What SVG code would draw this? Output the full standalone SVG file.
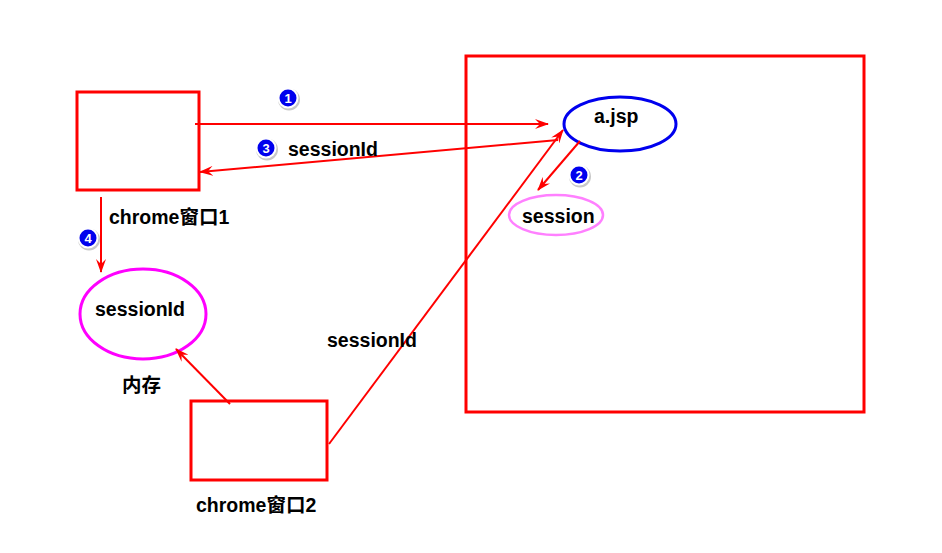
<svg xmlns="http://www.w3.org/2000/svg" width="942" height="553" viewBox="0 0 942 553">
<defs>
<marker id="ah" viewBox="0 0 14 10" refX="13" refY="5" markerWidth="14" markerHeight="10" markerUnits="userSpaceOnUse" orient="auto">
<path d="M0,0 L14,5 L0,10 L5,5 z" fill="#ff0000"/>
</marker>
<g id="badge">
<circle cx="1" cy="1.5" r="11" fill="#b0b0b0" opacity="0.7"/>
<circle cx="0" cy="0" r="10.5" fill="#ffffff"/>
<circle cx="0" cy="0" r="8.5" fill="#0000ee"/>
</g>
</defs>
<style>
.box{fill:none;stroke:#ff0000;stroke-width:3}
.lbl{font-family:"Liberation Sans","Noto Sans CJK SC",Arial,sans-serif;font-weight:bold;font-size:19.5px;fill:#000}
.num{font-family:"Liberation Sans",Arial,sans-serif;font-weight:bold;font-size:13px;fill:#fff;text-anchor:middle}
.con{fill:none;stroke:#ff0000;stroke-width:2;marker-end:url(#ah)}
</style>
<rect width="942" height="553" fill="#ffffff"/>
<g id="server"><rect class="box" x="466" y="56" width="398" height="356"/></g>
<g id="chrome1"><rect class="box" x="77" y="92" width="122" height="98"/><text class="lbl" x="109" y="224">chrome窗口1</text></g>
<g id="chrome2"><rect class="box" x="191" y="401" width="136" height="79"/><text class="lbl" x="196" y="512">chrome窗口2</text></g>
<g id="ajsp"><ellipse cx="620" cy="124" rx="56" ry="27" fill="none" stroke="#0000ee" stroke-width="3"/><text class="lbl" x="594" y="123">a.jsp</text></g>
<g id="session"><ellipse cx="556" cy="215" rx="47" ry="20" fill="none" stroke="#ff80ff" stroke-width="2.5"/><text class="lbl" x="522" y="223">session</text></g>
<g id="memory"><ellipse cx="143" cy="314" rx="63" ry="45" fill="none" stroke="#ff00ff" stroke-width="3"/><text class="lbl" x="95" y="316">sessionId</text><text class="lbl" x="122" y="392">内存</text></g>
<g id="connectors">
<line class="con" x1="195" y1="124" x2="548" y2="124"/>
<line class="con" x1="558" y1="140" x2="200" y2="172"/>
<line class="con" x1="580" y1="141" x2="538" y2="190"/>
<line class="con" x1="101" y1="197" x2="101" y2="272"/>
<line class="con" x1="230" y1="404" x2="176" y2="349"/>
<line class="con" x1="329" y1="444" x2="563" y2="130"/>
</g>
<g id="labels">
<text class="lbl" x="288" y="156">sessionId</text>
<text class="lbl" x="327" y="347">sessionId</text>
</g>
<g id="badges">
<use href="#badge" x="288" y="98"/><text class="num" x="288" y="102.5">1</text>
<use href="#badge" x="266" y="148"/><text class="num" x="266" y="152.5">3</text>
<use href="#badge" x="579" y="175"/><text class="num" x="579" y="179.5">2</text>
<use href="#badge" x="88" y="238"/><text class="num" x="88" y="242.5">4</text>
</g>
</svg>
